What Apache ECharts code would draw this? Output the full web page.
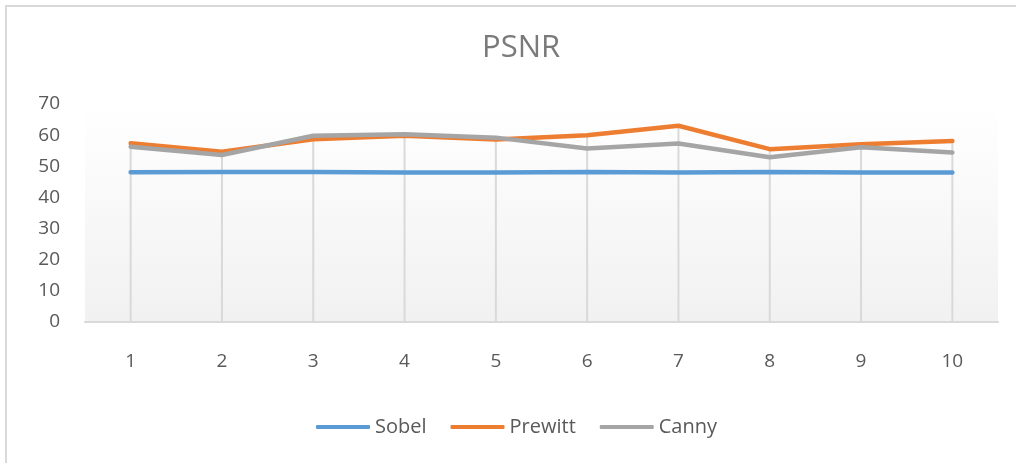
<!DOCTYPE html>
<html style="height: 100%">
<head>
    <meta charset="utf-8">
</head>
<body style="height: 100%; margin: 0; background: #fff">
    <div id="frame" style="position: absolute; left: 5px; top: 5px; width: 1100px; height: 500px; border-top: 2px solid #d9d9d9; border-left: 2px solid #d9d9d9;"></div>
    <div id="container" style="position: absolute; left: 0; top: 0; width: 1016px; height: 463px"></div>
    <script type="text/javascript" src="https://cdn.jsdelivr.net/npm/echarts@6/dist/echarts.min.js"></script>
    <script type="text/javascript">
var categories = ['1', '2', '3', '4', '5', '6', '7', '8', '9', '10'];
var sobel   = [48.1, 48.2, 48.2, 48.0, 48.0, 48.2, 48.0, 48.2, 48.0, 48.0];
var prewitt = [57.4, 54.7, 58.7, 59.8, 58.6, 60.0, 63.0, 55.5, 57.1, 58.1];
var canny   = [56.3, 53.6, 59.8, 60.3, 59.2, 55.7, 57.3, 52.9, 56.1, 54.4];

// drop lines go from the axis up to the highest point in each category
var dropTop = categories.map(function (c, i) {
    return Math.max(sobel[i], prewitt[i], canny[i]);
});

var dom = document.getElementById('container');
var myChart = echarts.init(dom);
var font = 'Open Sans';
var textColor = '#595959';

var option = {
    backgroundColor: 'transparent',
    animation: false,
    title: {
        text: 'PSNR',
        left: 477,
        top: 28,
        textStyle: {
            fontFamily: font,
            fontSize: 31,
            fontWeight: 'normal',
            color: '#7a7a7a'
        }
    },
    legend: {
        data: ['Sobel', 'Prewitt', 'Canny'],
        left: 316,
        top: 417,
        padding: 0,
        icon: 'roundRect',
        itemWidth: 54,
        itemHeight: 4,
        itemGap: 24,
        textStyle: {
            fontFamily: font,
            fontSize: 20,
            color: textColor
        }
    },
    grid: {
        left: 85,
        right: 18,
        top: 104,
        bottom: 141,
        show: true,
        borderWidth: 0,
        backgroundColor: new echarts.graphic.LinearGradient(0, 0, 0, 1, [
            { offset: 0, color: '#ffffff' },
            { offset: 1, color: '#f1f1f1' }
        ])
    },
    xAxis: {
        type: 'category',
        data: categories,
        boundaryGap: true,
        axisLine: { lineStyle: { color: '#d9d9d9', width: 2 } },
        axisTick: { show: false },
        splitLine: { show: false },
        axisLabel: {
            margin: 30,
            fontFamily: font,
            fontSize: 19,
            color: textColor
        }
    },
    yAxis: {
        type: 'value',
        min: 0,
        max: 70,
        interval: 10,
        axisLine: { show: false },
        axisTick: { show: false },
        splitLine: { show: false },
        axisLabel: {
            margin: 25,
            fontFamily: font,
            fontSize: 19,
            color: textColor
        }
    },
    series: [
        {
            name: 'drop',
            type: 'bar',
            data: dropTop,
            barWidth: 2,
            silent: true,
            itemStyle: { color: '#d9d9d9' },
            z: 1
        },
        {
            name: 'Sobel',
            type: 'line',
            data: sobel,
            symbol: 'none',
            color: '#5b9bd5',
            lineStyle: { width: 4.5, cap: 'round' },
            z: 3
        },
        {
            name: 'Prewitt',
            type: 'line',
            data: prewitt,
            symbol: 'none',
            color: '#ed7d31',
            lineStyle: { width: 4.5, cap: 'round' },
            z: 4
        },
        {
            name: 'Canny',
            type: 'line',
            data: canny,
            symbol: 'none',
            color: '#a5a5a5',
            lineStyle: { width: 4.5, cap: 'round' },
            z: 5
        }
    ]
};

myChart.setOption(option);
    </script>
</body>
</html>
